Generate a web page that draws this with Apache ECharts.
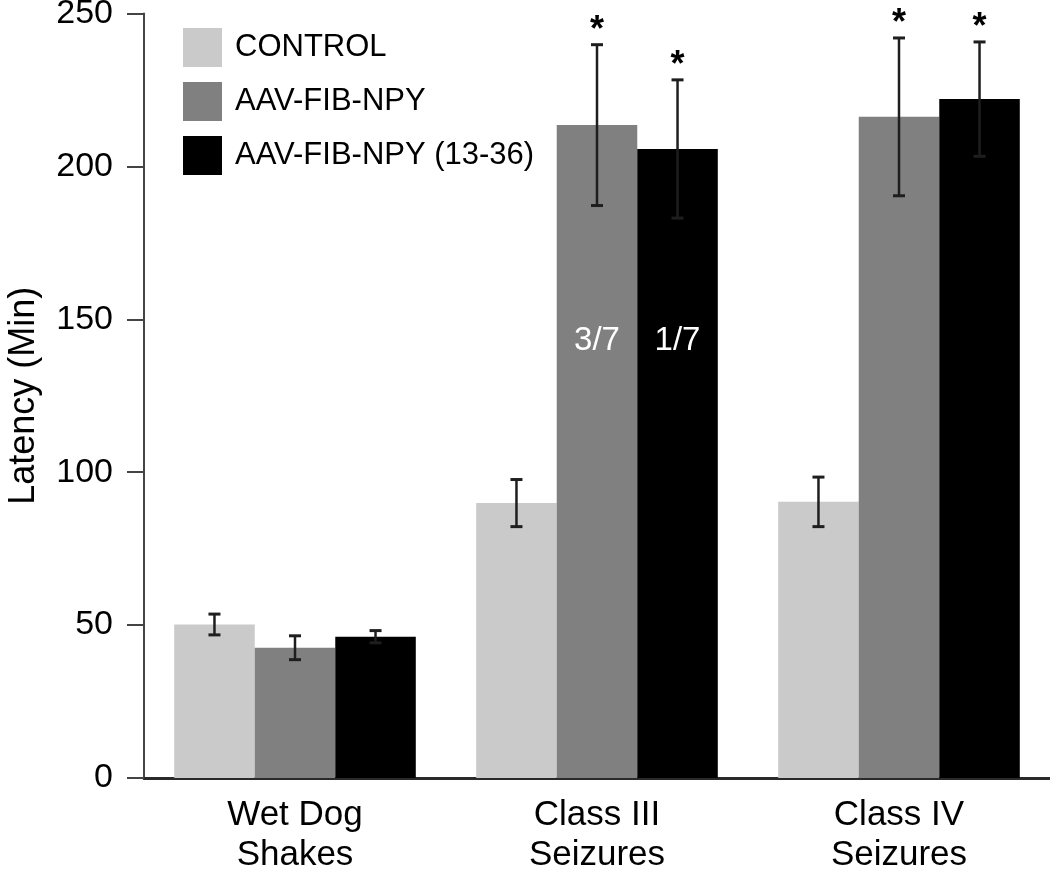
<!DOCTYPE html>
<html>
<head>
<meta charset="utf-8">
<script src="https://cdn.jsdelivr.net/npm/echarts@6/dist/echarts.min.js"></script>
<style>
html,body{margin:0;padding:0;background:#fff;}
#chart{width:1050px;height:869px;}
</style>
</head>
<body>
<div id="chart"></div>
<script>
const categories = ['Wet Dog\nShakes', 'Class III\nSeizures', 'Class IV\nSeizures'];
const seriesNames = ['CONTROL', 'AAV-FIB-NPY', 'AAV-FIB-NPY (13-36)'];
const controlValues = [50.2, 89.9, 90.3];
const controlErrors = [3.4, 7.7, 8.1];
const npyValues = [42.6, 213.5, 216.2];
const npyErrors = [3.9, 26.3, 25.8];
const npy1336Values = [46.2, 205.7, 222.0];
const npy1336Errors = [2.0, 22.6, 18.7];
const controlStars = ['', '', ''];
const npyStars = ['', '*', '*'];
const npy1336Stars = ['', '*', '*'];
const npyFractions = ['', '3/7', ''];
const npy1336Fractions = ['', '1/7', ''];
const fractionLevel = 143;
const yMin = 0, yMax = 250, yStep = 50;

const colors = ['#cacaca', '#808080', '#000000'];
const FONT = '"Liberation Sans", Arial, Helvetica, sans-serif';
const CAT_GAP = 0.2;

function errorRender(groupIdx, errs, stars) {
  return function (params, api) {
    const i = params.dataIndex;
    const cat = api.value(0);
    const v = api.value(1);
    const e = errs[i];
    const band = api.size([1, 0])[0];
    const barW = band * (1 - CAT_GAP) / 3;
    const off = (groupIdx - 1) * barW;
    const top = api.coord([cat, v + e]);
    const bot = api.coord([cat, v - e]);
    const x = top[0] + off;
    const cap = 6;
    const st = { stroke: '#1e1e1e', lineWidth: 2.5 };
    const children = [
      { type: 'line', shape: { x1: x, y1: top[1], x2: x, y2: bot[1] }, style: st },
      { type: 'line', shape: { x1: x - cap, y1: top[1], x2: x + cap, y2: top[1] }, style: { stroke: '#1e1e1e', lineWidth: 3 } },
      { type: 'line', shape: { x1: x - cap, y1: bot[1], x2: x + cap, y2: bot[1] }, style: { stroke: '#1e1e1e', lineWidth: 3 } }
    ];
    if (stars[i]) {
      children.push({
        type: 'text',
        style: { text: stars[i], x: x, y: top[1] - 14, textAlign: 'center', textVerticalAlign: 'middle',
                 font: 'bold 36px ' + FONT, fill: '#000' }
      });
    }
    return { type: 'group', children: children };
  };
}

function fractionRender(groupIdx, texts) {
  return function (params, api) {
    const i = params.dataIndex;
    if (!texts[i]) return null;
    const band = api.size([1, 0])[0];
    const barW = band * (1 - CAT_GAP) / 3;
    const off = (groupIdx - 1) * barW;
    const p = api.coord([api.value(0), api.value(1)]);
    return {
      type: 'text',
      style: { text: texts[i], x: p[0] + off, y: p[1], textAlign: 'center', textVerticalAlign: 'middle',
               font: '33px ' + FONT, fill: '#ffffff' }
    };
  };
}

const groups = [
  { name: seriesNames[0], vals: controlValues, errs: controlErrors, stars: controlStars, frac: ['', '', ''] },
  { name: seriesNames[1], vals: npyValues, errs: npyErrors, stars: npyStars, frac: npyFractions },
  { name: seriesNames[2], vals: npy1336Values, errs: npy1336Errors, stars: npy1336Stars, frac: npy1336Fractions }
];

const series = [];
groups.forEach((g, gi) => {
  series.push({
    name: g.name, type: 'bar', data: g.vals, barGap: '0%', barCategoryGap: (CAT_GAP * 100) + '%',
    itemStyle: { color: colors[gi] }, z: 2, silent: true
  });
});
groups.forEach((g, gi) => {
  series.push({
    type: 'custom', renderItem: errorRender(gi, g.errs, g.stars), z: 5, silent: true,
    data: g.vals.map((v, i) => [i, v])
  });
  series.push({
    type: 'custom', renderItem: fractionRender(gi, g.frac), z: 6, silent: true,
    data: g.vals.map((v, i) => [i, fractionLevel])
  });
});

const chart = echarts.init(document.getElementById('chart'), null, { renderer: 'canvas' });
chart.setOption({
  animation: false,
  backgroundColor: '#ffffff',
  textStyle: { fontFamily: FONT },
  legend: {
    data: seriesNames, orient: 'vertical', left: 178, top: 23,
    itemWidth: 39, itemHeight: 39, itemGap: 15, icon: 'rect',
    textStyle: { fontSize: 31, color: '#000', fontFamily: FONT, padding: [0, 0, 0, 8] },
    selectedMode: false
  },
  grid: { left: 144, right: 0, top: 13.5, bottom: 91, containLabel: false, outerBoundsMode: 'none' },
  xAxis: {
    type: 'category', data: categories,
    axisLine: { lineStyle: { color: '#2a2a2a', width: 3 } },
    axisTick: { show: false },
    axisLabel: { fontSize: 35, color: '#000', fontFamily: FONT, lineHeight: 40, margin: 17, interval: 0 }
  },
  yAxis: {
    type: 'value', min: yMin, max: yMax, interval: yStep,
    name: 'Latency (Min)', nameLocation: 'middle', nameGap: 102,
    nameTextStyle: { fontSize: 36, color: '#000', fontFamily: FONT },
    axisLine: { show: true, lineStyle: { color: '#444', width: 2 } },
    axisTick: { show: true, length: 17, lineStyle: { color: '#444', width: 2 } },
    axisLabel: { fontSize: 34, color: '#000', fontFamily: FONT, margin: 31 },
    splitLine: { show: false }
  },
  series: series
});
</script>
</body>
</html>
